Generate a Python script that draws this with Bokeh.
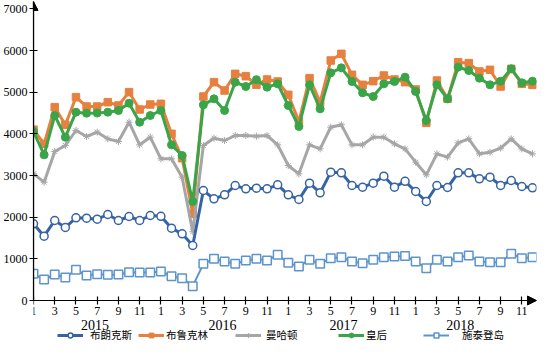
from bokeh.plotting import figure
from bokeh.models import FixedTicker, Range1d, Arrow, NormalHead, Label, Legend, LegendItem
from bokeh.embed import file_html
from bokeh.resources import INLINE

# ---- data ----
years = ["2015", "2016", "2017", "2018"]
year_label_pos = [5.8, 17.8, 29.2, 40.2]
month_numbers = list(range(1, 13)) * 4
x = list(range(48))

bronx = [1840, 1544, 1920, 1752, 1984, 1976, 1952, 2064, 1920, 2016, 1920, 2040,
         2020, 1736, 1600, 1320, 2640, 2440, 2536, 2760, 2680, 2696, 2680, 2776,
         2536, 2424, 2816, 2584, 3080, 3064, 2760, 2720, 2816, 2984, 2720, 2860,
         2616, 2376, 2760, 2712, 3064, 3064, 2920, 2960, 2760, 2880, 2736, 2704]
brooklyn = [4100, 3760, 4640, 4216, 4880, 4656, 4656, 4760, 4680, 5000, 4584, 4704,
            4720, 4000, 3416, 2080, 4896, 5240, 5040, 5440, 5384, 5180, 5304, 5256,
            4936, 4296, 5336, 4760, 5760, 5920, 5416, 5176, 5264, 5400, 5304, 5240,
            5064, 4264, 5280, 4840, 5720, 5696, 5496, 5536, 5136, 5560, 5200, 5176]
manhattan = [3040, 2840, 3576, 3720, 4080, 3936, 4040, 3880, 3816, 4280, 3736, 3920,
             3400, 3400, 2960, 1650, 3720, 3896, 3840, 3960, 3960, 3944, 3960, 3736,
             3240, 3040, 3736, 3640, 4160, 4216, 3736, 3736, 3920, 3920, 3760, 3640,
             3320, 3016, 3520, 3440, 3784, 3880, 3520, 3560, 3656, 3880, 3640, 3520]
queens = [4056, 3496, 4440, 3920, 4520, 4496, 4500, 4520, 4560, 4736, 4280, 4440,
          4560, 3736, 3480, 2376, 4696, 4840, 4560, 5240, 5136, 5300, 5120, 5200,
          4680, 4176, 5176, 4600, 5464, 5584, 5256, 4984, 4896, 5200, 5256, 5360,
          5016, 4320, 5176, 4840, 5600, 5520, 5336, 5176, 5264, 5560, 5224, 5264]
staten = [640, 504, 624, 552, 736, 600, 632, 616, 624, 680, 672, 672,
          696, 584, 536, 344, 880, 1000, 936, 880, 960, 1000, 960, 1096,
          904, 816, 976, 880, 1016, 1040, 936, 896, 976, 1040, 1056, 1070,
          936, 776, 976, 936, 1040, 1080, 936, 920, 920, 1120, 1016, 1040]

names = ["布朗克斯", "布鲁克林", "曼哈顿", "皇后", "施泰登岛"]
y_ticks = [0, 1000, 2000, 3000, 4000, 5000, 6000, 7000]

SERIF = "'Liberation Serif', 'Times New Roman', serif"
CJK = "'Noto Sans CJK SC'"

X_END = 47.38
Y_END = 7176
Y_START = -1032   # space below the x axis for year labels and legend

p = figure(width=537, height=343, output_backend="svg", toolbar_location=None,
           x_range=Range1d(0, X_END), y_range=Range1d(Y_START, Y_END),
           min_border_left=30, min_border_right=1, min_border_top=1, min_border_bottom=0)
p.outline_line_color = None
p.grid.visible = False
p.background_fill_color = "white"

odd_idx = [i for i in x if month_numbers[i] % 2 == 1]
p.xaxis.fixed_location = 0
p.xaxis.ticker = FixedTicker(ticks=odd_idx)
p.xaxis.major_label_overrides = {i: str(month_numbers[i]) for i in odd_idx}
p.yaxis.ticker = FixedTicker(ticks=y_ticks)
p.yaxis.bounds = (0, Y_END)
for ax in (p.xaxis, p.yaxis):
    ax.axis_line_color = "black"
    ax.axis_line_width = 1.2
    ax.major_tick_line_color = "black"
    ax.major_tick_line_width = 1.2
    ax.major_tick_in = 4
    ax.major_tick_out = 4
    ax.minor_tick_line_color = None
    ax.major_label_text_font = SERIF
    ax.major_label_text_font_size = "12px"
    ax.major_label_text_color = "black"
p.xaxis.major_label_standoff = 2
p.yaxis.major_label_standoff = 2

# axis arrows
p.add_layout(Arrow(end=NormalHead(size=9, fill_color="black", line_color="black"),
                   x_start=0, y_start=0, x_end=X_END, y_end=0,
                   line_color="black", line_width=1.2))
p.add_layout(Arrow(end=NormalHead(size=9, fill_color="black", line_color="black"),
                   x_start=0, y_start=0, x_end=0, y_end=Y_END,
                   line_color="black", line_width=1.2))

styles = {
    "布朗克斯": dict(color="#3563a3", marker="circle", fill="white", size=8, lw=3, mlw=1.5),
    "布鲁克林": dict(color="#e7803f", marker="square", fill="#e7803f", size=7.5, lw=3, mlw=1),
    "曼哈顿": dict(color="#a6a6a8", marker="asterisk", fill="#a6a6a8", size=7, lw=3, mlw=1),
    "皇后": dict(color="#3aa449", marker="circle", fill="#3aa449", size=8, lw=3, mlw=1),
    "施泰登岛": dict(color="#5c94cb", marker="square", fill="white", size=8.5, lw=2, mlw=1.5),
}
series = {"布朗克斯": bronx, "布鲁克林": brooklyn, "曼哈顿": manhattan,
          "皇后": queens, "施泰登岛": staten}

renderers = {}
for nm in ["布鲁克林", "曼哈顿", "皇后", "布朗克斯", "施泰登岛"]:
    s = styles[nm]
    lr = p.line(x, series[nm], line_color=s["color"], line_width=s["lw"])
    sr = p.scatter(x, series[nm], marker=s["marker"], size=s["size"],
                   fill_color=s["fill"], line_color=s["color"], line_width=s["mlw"])
    renderers[nm] = [lr, sr]

# year labels
for yr, pos in zip(years, year_label_pos):
    p.add_layout(Label(x=pos, y=-590, x_units="data", y_units="data", text=yr,
                       text_align="center", text_baseline="middle",
                       text_font=SERIF, text_font_size="14px", text_font_style="normal",
                       text_color="black"))

# legends (one per item, placed below the axis)
leg_x = [24, 105, 202, 305, 390]
leg_standoff = [7, 2, 5, 2, 13]
for nm, lx, so in zip(names, leg_x, leg_standoff):
    leg = Legend(items=[LegendItem(label=nm, renderers=renderers[nm])],
                 location=(lx, 1), orientation="horizontal",
                 padding=0, margin=0, spacing=0,
                 glyph_width=26, glyph_height=12, label_standoff=so,
                 label_text_font=CJK, label_text_font_size="10.5px",
                 label_text_color="black", label_height=12,
                 border_line_alpha=0, background_fill_alpha=0)
    p.add_layout(leg)

open("out.html", "w").write(file_html(p, INLINE))
